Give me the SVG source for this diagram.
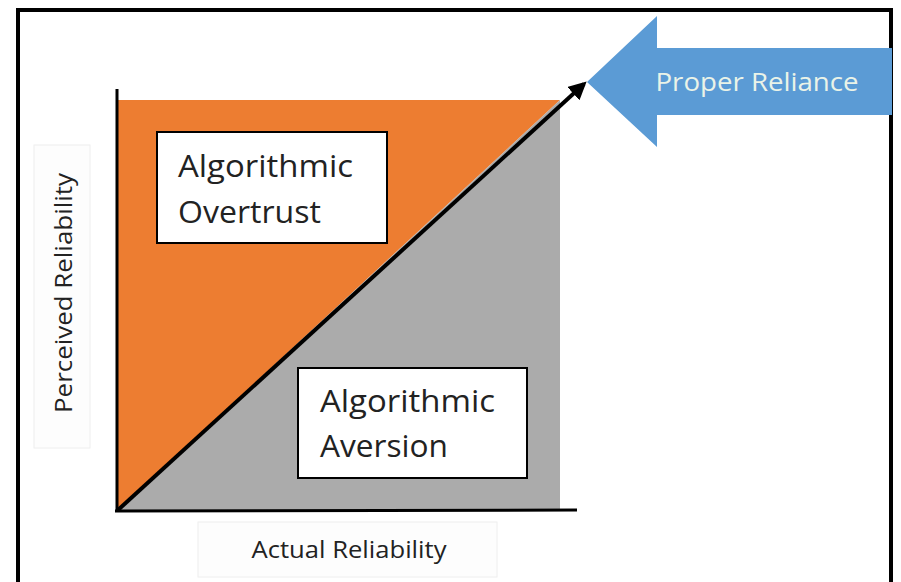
<svg xmlns="http://www.w3.org/2000/svg" width="901" height="582" viewBox="0 0 901 582">
<style>
.lbl{font-family:"Open Sans","Liberation Sans",sans-serif;fill:#222}
.box{fill:#fff;stroke:#000;stroke-width:2}
.axis{stroke:#000;stroke-width:3;fill:none}
</style>
<defs>
<marker id="ah" viewBox="0 0 10 10" refX="8" refY="5" markerWidth="4.5" markerHeight="4.5" orient="auto" markerUnits="strokeWidth">
<path d="M0,0 L10,5 L0,10 z" fill="#000"/>
</marker>
</defs>
<rect x="0" y="0" width="901" height="582" fill="#fff"/>
<rect x="18" y="10" width="873" height="590" fill="none" stroke="#000" stroke-width="4"/>
<g id="regions">
<polygon points="118,100 560,100 118,510" fill="#ED7D31"/>
<polygon points="118,510 560,100 560,510" fill="#ABABAB"/>
</g>
<g id="axes">
<line class="axis" x1="117" y1="89" x2="117" y2="512"/>
<line class="axis" x1="115" y1="511" x2="577" y2="510"/>
</g>
<g id="connectors">
<line x1="118" y1="510" x2="584" y2="84" stroke="#000" stroke-width="4" marker-end="url(#ah)"/>
</g>
<g id="overtrust">
<rect class="box" x="157" y="132" width="230" height="111"/>
<text class="lbl" x="178" y="177" font-size="31" textLength="175" lengthAdjust="spacingAndGlyphs">Algorithmic</text>
<text class="lbl" x="178" y="223" font-size="31" textLength="143" lengthAdjust="spacingAndGlyphs">Overtrust</text>
</g>
<g id="aversion">
<rect class="box" x="298" y="368" width="229" height="110"/>
<text class="lbl" x="320" y="412" font-size="31" textLength="175" lengthAdjust="spacingAndGlyphs">Algorithmic</text>
<text class="lbl" x="320" y="457" font-size="31" textLength="128" lengthAdjust="spacingAndGlyphs">Aversion</text>
</g>
<g id="perceived">
<rect x="34" y="145" width="56" height="303" fill="#fdfdfd" stroke="#eee" stroke-width="1"/>
<text class="lbl" x="0" y="0" font-size="23" text-anchor="middle" fill="#333" textLength="240" lengthAdjust="spacingAndGlyphs" transform="translate(72,293) rotate(-90)">Perceived Reliability</text>
</g>
<g id="actual">
<rect x="198" y="522" width="299" height="55" fill="#fdfdfd" stroke="#eee" stroke-width="1"/>
<text class="lbl" x="349" y="558" font-size="23" text-anchor="middle" textLength="195" lengthAdjust="spacingAndGlyphs">Actual Reliability</text>
</g>
<g id="proper-reliance">
<polygon points="587,82 657,16 657,48 892,48 892,115 657,115 657,147" fill="#5B9BD5"/>
<text x="757" y="91" font-size="25" text-anchor="middle" font-family="Open Sans,Liberation Sans,sans-serif" fill="#EAF3E8" textLength="203" lengthAdjust="spacingAndGlyphs">Proper Reliance</text>
</g>
</svg>
